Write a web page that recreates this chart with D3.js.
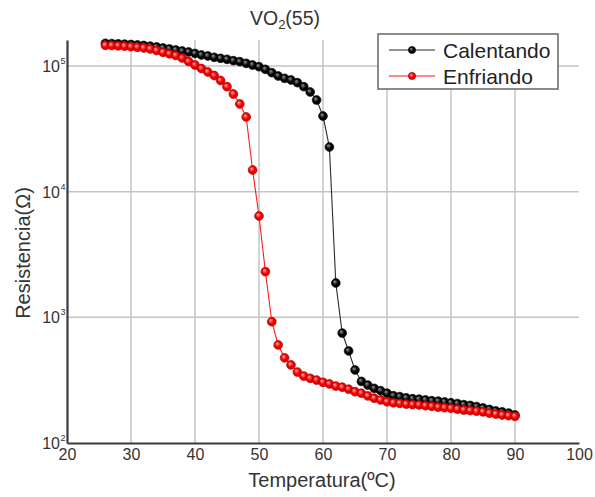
<!DOCTYPE html>
<html>
<head>
<meta charset="utf-8">
<script src="https://cdn.jsdelivr.net/npm/d3@7"></script>
<style>
  html, body { margin: 0; padding: 0; background: #fff; }
  svg { display: block; font-family: "Liberation Sans", Arial, sans-serif; }
</style>
</head>
<body>
<svg id="chart" width="595" height="497"></svg>
<script>
// Temperature sweep (°C)
const temperatura = [26,27,28,29,30,31,32,33,34,35,36,37,38,39,40,41,42,43,44,45,46,47,48,49,50,
  51,52,53,54,55,56,57,58,59,60,61,62,63,64,65,66,67,68,69,70,71,72,73,74,75,
  76,77,78,79,80,81,82,83,84,85,86,87,88,89,90];

// Resistance while heating (Ω)
const calentando = [151500,150900,150100,149200,148300,146900,145600,143800,141700,139100,
  136600,134100,131600,129200,125700,122300,120100,117300,115100,113000,
  110200,108200,105000,101800,98700,94100,88450,83270,79840,77380,
  73650,68430,62090,53610,39990,22670,1876,750,540,381,
  309,289,272,261,249,238,234,229,225,223,
  220,217,215,212,209,206,202,199,195,190,185,180,177,173,167];

// Resistance while cooling (Ω)
const enfriando = [146100,145600,144800,143700,142500,140900,139100,136600,132800,128500,
  125000,121200,115800,108600,101800,95500,89590,84010,76670,68430,
  59840,49840,39270,14870,6401,2307,923,603,476,418,
  367,341,327,317,304,295,284,278,268,256,
  249,237,227,220,213,209,207,204,202,201,
  198,196,193,191,189,186,183,181,179,177,173,170,167,165,163];

const xTicks = [20,30,40,50,60,70,80,90,100];
const yTicks = [100,1000,10000,100000];
const yExponents = ["2","3","4","5"];

const series = [
  { name: "Calentando", values: calentando, line: "#2b2b2b", fill: "#000000", light: "#9a9a9a", stroke: "#111" },
  { name: "Enfriando",  values: enfriando,  line: "#ff1a1a", fill: "#ee0000", light: "#ffb0b0", stroke: "#b00000" }
];

const svg = d3.select("#chart");
const plot = { left: 67, right: 579, top: 40, bottom: 443 };

const x = d3.scaleLinear().domain([20, 100]).range([plot.left, plot.right]);
const y = d3.scaleLog().domain([100, 161000]).range([plot.bottom, plot.top]);

// shaded marker fills
const defs = svg.append("defs");
series.forEach((s, i) => {
  const g = defs.append("radialGradient").attr("id", "mk" + i)
    .attr("cx", "50%").attr("cy", "50%").attr("r", "55%")
    .attr("fx", "35%").attr("fy", "32%");
  g.append("stop").attr("offset", "0%").attr("stop-color", s.light);
  g.append("stop").attr("offset", "55%").attr("stop-color", s.fill);
  g.append("stop").attr("offset", "100%").attr("stop-color", s.fill);
});

// grid
const grid = svg.append("g").attr("stroke", "#c4c4c4").attr("stroke-width", 1.5);
grid.selectAll("line.v").data(xTicks.filter(t => t > 20 && t < 100)).join("line")
  .attr("class", "v")
  .attr("x1", d => x(d)).attr("x2", d => x(d))
  .attr("y1", plot.top).attr("y2", plot.bottom);
grid.selectAll("line.h").data(yTicks.filter(t => t > 100)).join("line")
  .attr("class", "h")
  .attr("x1", plot.left).attr("x2", plot.right)
  .attr("y1", d => y(d)).attr("y2", d => y(d));

// lines and markers
const line = d3.line().x((d, i) => x(temperatura[i])).y(d => y(d));
series.forEach((s, i) => {
  const g = svg.append("g");
  g.append("path").attr("d", line(s.values))
    .attr("fill", "none").attr("stroke", s.line).attr("stroke-width", 1.1);
  g.selectAll("circle").data(s.values).join("circle")
    .attr("cx", (d, j) => x(temperatura[j]))
    .attr("cy", d => y(d))
    .attr("r", 4.4)
    .attr("fill", "url(#mk" + i + ")")
    .attr("stroke", s.stroke).attr("stroke-width", 0.7);
});

// axes
const xAxis = svg.append("g").attr("transform", `translate(0,${plot.bottom})`)
  .call(d3.axisBottom(x).tickValues(xTicks).tickSize(0).tickPadding(4).tickFormat(d3.format("d")));
xAxis.select(".domain").attr("stroke", "#3a3a3a").attr("stroke-width", 2.2);
xAxis.selectAll("text").attr("font-size", 16).attr("fill", "#333")
  .attr("font-family", "Liberation Sans, Arial, sans-serif")
  .attr("dy", "0.82em");

const yAxis = svg.append("g").attr("transform", `translate(${plot.left},0)`)
  .call(d3.axisLeft(y).tickValues(yTicks).tickSize(0).tickFormat(""));
yAxis.select(".domain").attr("stroke", "#3a3a3a").attr("stroke-width", 2.2);

const yLab = svg.append("g").attr("fill", "#333")
  .attr("font-family", "Liberation Sans, Arial, sans-serif");
yTicks.forEach((t, i) => {
  const ty = y(t);
  yLab.append("text").attr("x", 60).attr("y", ty + 6)
    .attr("text-anchor", "end").attr("font-size", 16).text("10");
  yLab.append("text").attr("x", 60.5).attr("y", ty - 2)
    .attr("font-size", 9).text(yExponents[i]);
});

// title
const title = svg.append("text").attr("x", 285).attr("y", 25)
  .attr("text-anchor", "middle").attr("font-size", 19.5).attr("fill", "#333");
title.append("tspan").text("VO");
title.append("tspan").attr("font-size", 13).attr("dy", 4).text("2");
title.append("tspan").attr("dy", -4).text("(55)");

// axis titles
svg.append("text").attr("x", 322).attr("y", 487)
  .attr("text-anchor", "middle").attr("font-size", 20).attr("fill", "#333")
  .text("Temperatura(ºC)");
svg.append("text").attr("transform", "translate(30,253) rotate(-90)")
  .attr("text-anchor", "middle").attr("font-size", 20).attr("fill", "#333")
  .text("Resistencia(Ω)");

// legend
const lg = svg.append("g");
lg.append("rect").attr("x", 378).attr("y", 34).attr("width", 180).attr("height", 55)
  .attr("fill", "#fff").attr("stroke", "#666").attr("stroke-width", 1.5);
series.forEach((s, i) => {
  const ly = 50 + i * 26;
  lg.append("line").attr("x1", 389).attr("x2", 435).attr("y1", ly).attr("y2", ly)
    .attr("stroke", s.line).attr("stroke-width", 1.1);
  lg.append("circle").attr("cx", 412).attr("cy", ly).attr("r", 3.6)
    .attr("fill", "url(#mk" + i + ")").attr("stroke", s.stroke).attr("stroke-width", 0.7);
  lg.append("text").attr("x", 443).attr("y", ly + 7.5)
    .attr("font-size", 21).attr("fill", "#222").text(s.name);
});
</script>
</body>
</html>
